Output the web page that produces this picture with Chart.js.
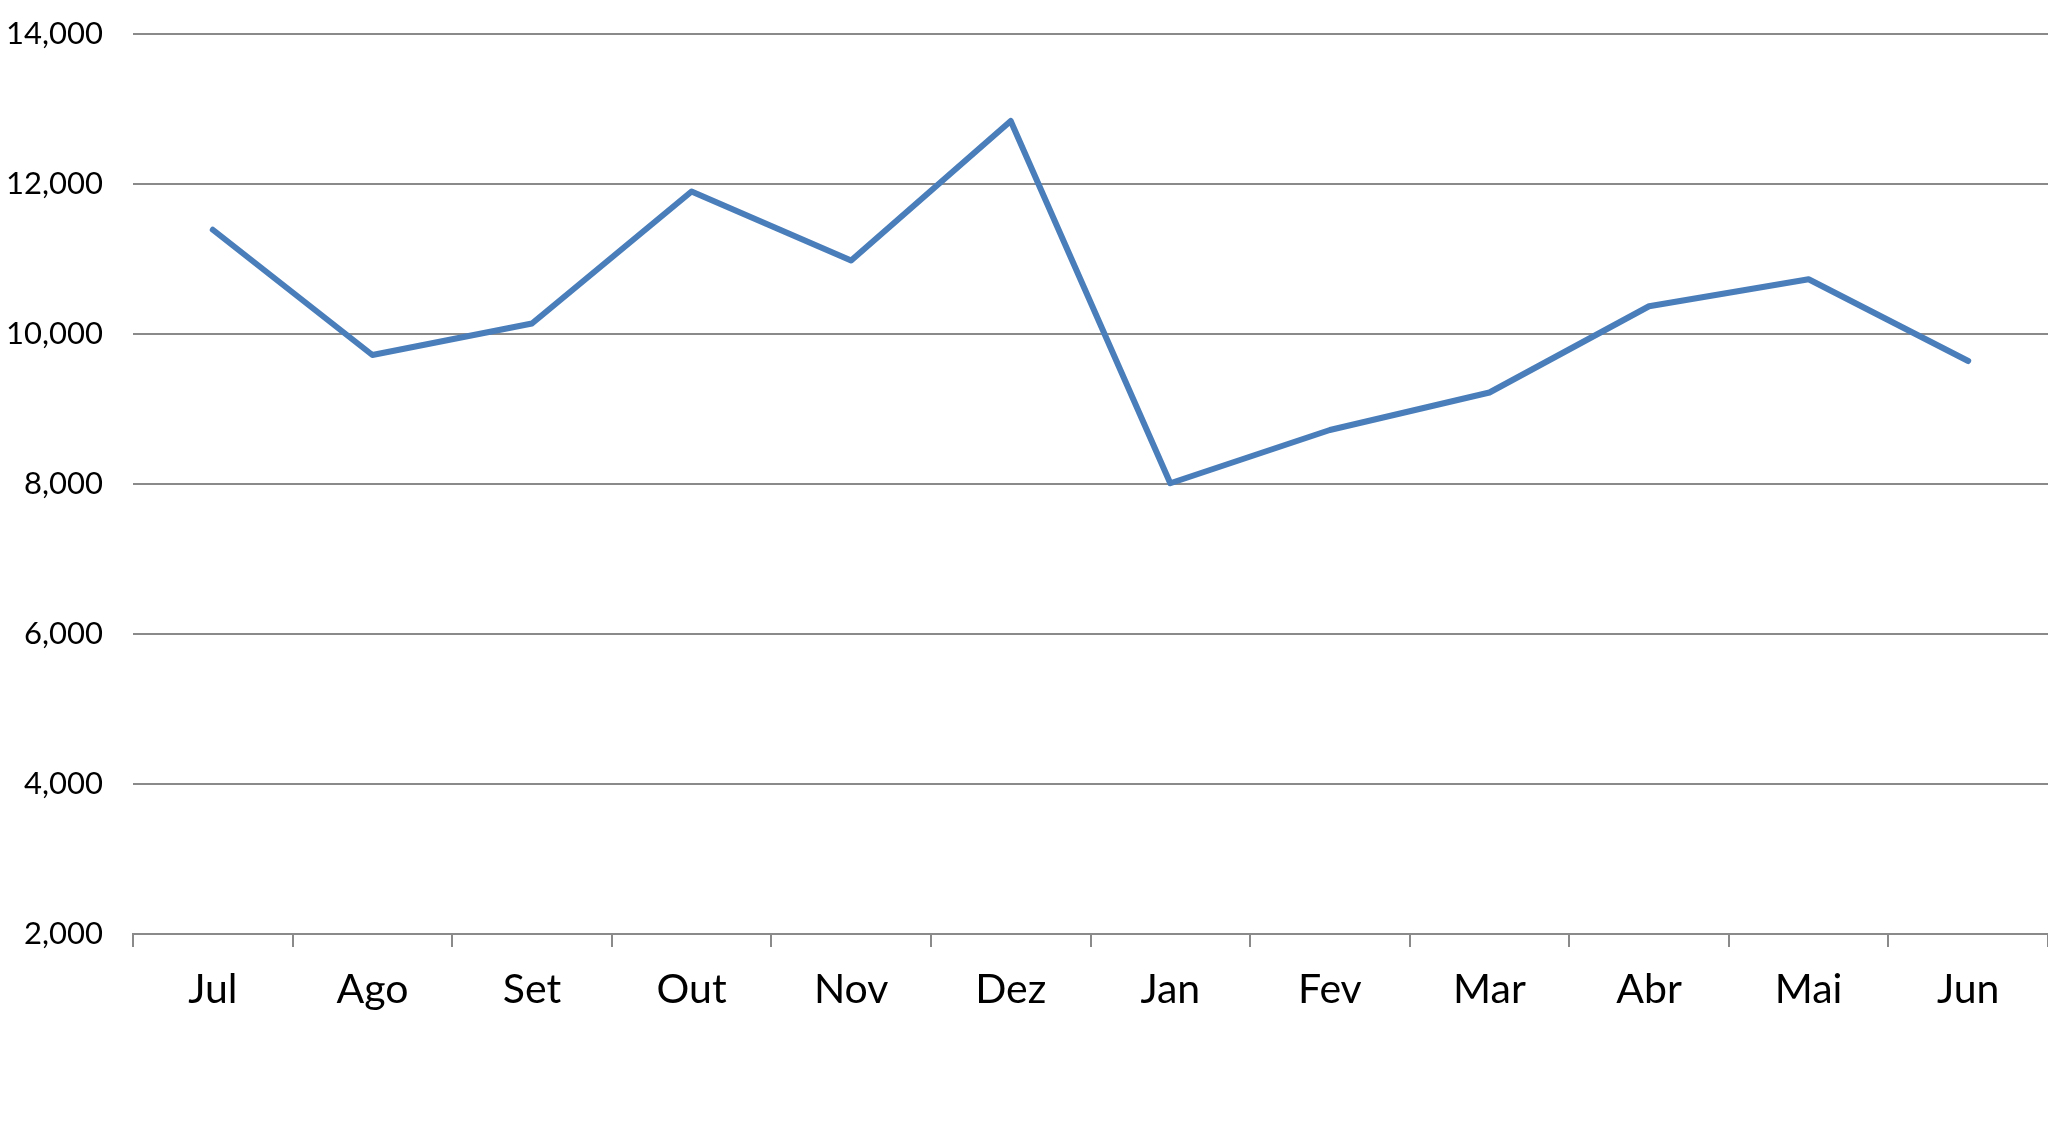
<!DOCTYPE html>
<html>
<head>
<meta charset="utf-8">
<script src="https://cdn.jsdelivr.net/npm/chart.js@4/dist/chart.umd.min.js"></script>
<style>
  html, body { margin: 0; padding: 0; background: #fff; }
  #wrap { width: 2048px; height: 1126px; }
</style>
</head>
<body>
<div id="wrap"><canvas id="chart" width="2048" height="1126"></canvas></div>
<script>
const months = ['Jul', 'Ago', 'Set', 'Out', 'Nov', 'Dez', 'Jan', 'Fev', 'Mar', 'Abr', 'Mai', 'Jun'];
const values = [11390, 9720, 10140, 11900, 10980, 12840, 8010, 8720, 9220, 10370, 10730, 9640];
const yMin = 2000;
const yMax = 14000;
const yStep = 2000;

const gridGray = '#8a8a8a';
const lineBlue = '#4a7ebb';

const ctx = document.getElementById('chart').getContext('2d');
const chart = new Chart(ctx, {
    type: 'line',
    data: {
        labels: months,
        datasets: [{
            data: values,
            borderColor: lineBlue,
            borderWidth: 6,
            tension: 0,
            pointRadius: 0,
            borderCapStyle: 'round',
            borderJoinStyle: 'round',
            fill: false
        }]
    },
    options: {
        responsive: false,
        animation: false,
        layout: { padding: 0 },
        plugins: {
            legend: { display: false },
            tooltip: { enabled: false }
        },
        scales: {
            x: {
                offset: true,
                grid: {
                    offset: true,
                    drawOnChartArea: false,
                    drawTicks: true,
                    tickLength: 13,
                    tickColor: gridGray,
                    lineWidth: 2
                },
                border: { display: true, color: gridGray, width: 2 },
                ticks: {
                    color: '#000',
                    padding: 18,
                    font: { family: 'Lato', size: 41 },
                    maxRotation: 0,
                    autoSkip: false
                },
                afterFit: function (scale) { scale.height = 192; }
            },
            y: {
                min: yMin,
                max: yMax,
                grid: {
                    color: gridGray,
                    lineWidth: 2,
                    drawTicks: false
                },
                border: { display: false },
                ticks: {
                    stepSize: yStep,
                    color: '#000',
                    padding: 30,
                    font: { family: 'Lato', size: 31 },
                    callback: v => v.toLocaleString('en-US')
                },
                afterFit: function (scale) {
                    scale.width = 133;
                    scale.paddingTop = 34; // top gridline sits 34px below the canvas edge
                }
            }
        }
    }
});
</script>
</body>
</html>
